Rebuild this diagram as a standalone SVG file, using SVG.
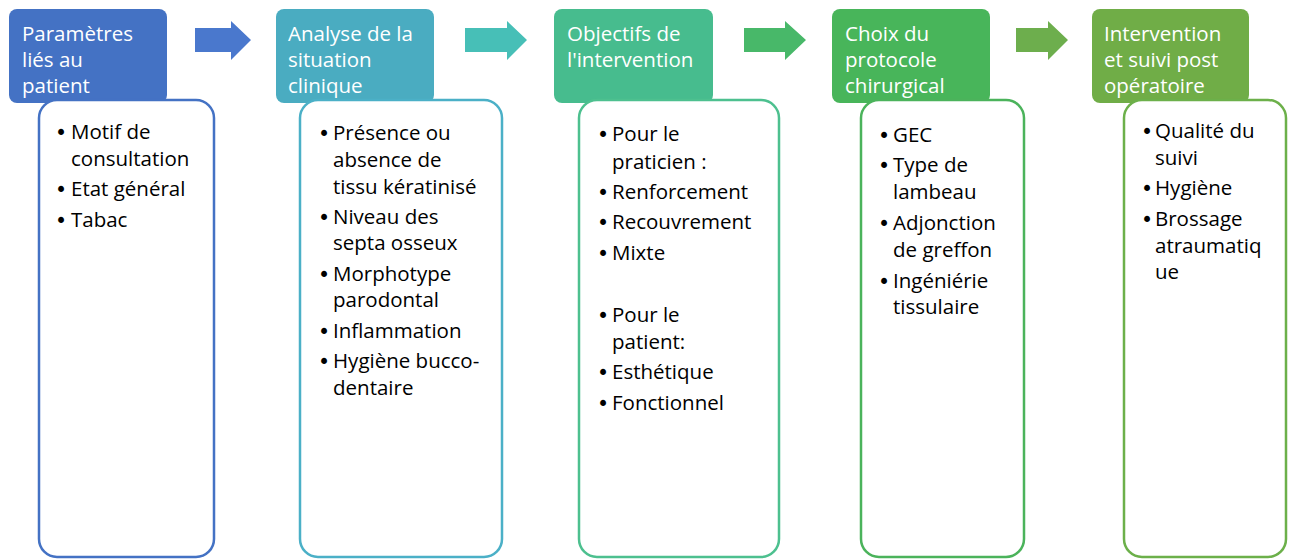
<svg xmlns="http://www.w3.org/2000/svg" width="1293" height="559" viewBox="0 0 1293 559">
<style>
.hd{font-family:"Open Sans","Noto Sans",sans-serif;font-size:20.5px;fill:#ffffff}
.bd{font-family:"Open Sans","Noto Sans",sans-serif;font-size:20.5px;fill:#000000}
.bu{font-family:"DejaVu Sans",sans-serif}
.card{fill:#ffffff;stroke-width:2.5}
</style>
<rect width="1293" height="559" fill="#ffffff"/>
<g id="connectors">
<polygon points="195,28 231,28 231,21 251,40 231,60 231,52 195,52" fill="#4A78CD"/>
<polygon points="465,28 507,28 507,21 527,40 507,60 507,52 465,52" fill="#47BFB7"/>
<polygon points="744,28 785,28 785,21 806,40 785,60 785,52 744,52" fill="#48B869"/>
<polygon points="1016,28 1048,28 1048,21 1068,40 1048,60 1048,52 1016,52" fill="#6DAE4D"/>
</g>
<g id="node1">
<rect x="9" y="9" width="158" height="94" rx="8" fill="#4472C4"/>
<text class="hd"><tspan x="22" y="41">Paramètres</tspan><tspan x="22" y="67">liés au</tspan><tspan x="22" y="93">patient</tspan></text>
<rect class="card" x="39" y="100" width="175" height="457" rx="18" stroke="#4472C4"/>
<text class="bd"><tspan class="bu" x="55" y="140">•</tspan><tspan x="71" y="139">Motif de</tspan><tspan x="71" y="166">consultation</tspan><tspan class="bu" x="55" y="197">•</tspan><tspan x="71" y="196">Etat général</tspan><tspan class="bu" x="55" y="228">•</tspan><tspan x="71" y="227">Tabac</tspan></text>
</g>
<g id="node2">
<rect x="276" y="9" width="158" height="94" rx="8" fill="#4AACC1"/>
<text class="hd"><tspan x="288" y="41">Analyse de la</tspan><tspan x="288" y="67">situation</tspan><tspan x="288" y="93">clinique</tspan></text>
<rect class="card" x="300" y="100" width="202" height="457" rx="18" stroke="#4BB0C7"/>
<text class="bd"><tspan class="bu" x="318" y="141">•</tspan><tspan x="333" y="140">Présence ou</tspan><tspan x="333" y="167">absence de</tspan><tspan x="333" y="194">tissu kératinisé</tspan><tspan class="bu" x="318" y="225">•</tspan><tspan x="333" y="224">Niveau des</tspan><tspan x="333" y="250">septa osseux</tspan><tspan class="bu" x="318" y="282">•</tspan><tspan x="333" y="281">Morphotype</tspan><tspan x="333" y="307">parodontal</tspan><tspan class="bu" x="318" y="339">•</tspan><tspan x="333" y="338">Inflammation</tspan><tspan class="bu" x="318" y="369">•</tspan><tspan x="333" y="368">Hygiène bucco-</tspan><tspan x="333" y="395">dentaire</tspan></text>
</g>
<g id="node3">
<rect x="554" y="9" width="159" height="94" rx="8" fill="#47BC8E"/>
<text class="hd"><tspan x="567" y="41">Objectifs de</tspan><tspan x="567" y="67">l'intervention</tspan></text>
<rect class="card" x="579" y="100" width="200" height="457" rx="18" stroke="#4DC08F"/>
<text class="bd"><tspan class="bu" x="597" y="142">•</tspan><tspan x="612" y="141">Pour le</tspan><tspan x="612" y="169">praticien :</tspan><tspan class="bu" x="597" y="200">•</tspan><tspan x="612" y="199">Renforcement</tspan><tspan class="bu" x="597" y="230">•</tspan><tspan x="612" y="229">Recouvrement</tspan><tspan class="bu" x="597" y="261">•</tspan><tspan x="612" y="260">Mixte</tspan><tspan class="bu" x="597" y="323">•</tspan><tspan x="612" y="322">Pour le</tspan><tspan x="612" y="349">patient:</tspan><tspan class="bu" x="597" y="380">•</tspan><tspan x="612" y="379">Esthétique</tspan><tspan class="bu" x="597" y="411">•</tspan><tspan x="612" y="410">Fonctionnel</tspan></text>
</g>
<g id="node4">
<rect x="832" y="9" width="158" height="94" rx="8" fill="#48B55A"/>
<text class="hd"><tspan x="845" y="41">Choix du</tspan><tspan x="845" y="67">protocole</tspan><tspan x="845" y="93">chirurgical</tspan></text>
<rect class="card" x="861" y="100" width="163" height="457" rx="18" stroke="#4BB35B"/>
<text class="bd"><tspan class="bu" x="878" y="143">•</tspan><tspan x="893" y="142">GEC</tspan><tspan class="bu" x="878" y="173">•</tspan><tspan x="893" y="172">Type de</tspan><tspan x="893" y="199">lambeau</tspan><tspan class="bu" x="878" y="231">•</tspan><tspan x="893" y="230">Adjonction</tspan><tspan x="893" y="257">de greffon</tspan><tspan class="bu" x="878" y="289">•</tspan><tspan x="893" y="288">Ingéniérie</tspan><tspan x="893" y="314">tissulaire</tspan></text>
</g>
<g id="node5">
<rect x="1092" y="9" width="157" height="94" rx="8" fill="#70AD47"/>
<text class="hd"><tspan x="1104" y="41">Intervention</tspan><tspan x="1104" y="67">et suivi post</tspan><tspan x="1104" y="93">opératoire</tspan></text>
<rect class="card" x="1124" y="100" width="162" height="457" rx="18" stroke="#6CB04A"/>
<text class="bd"><tspan class="bu" x="1141" y="139">•</tspan><tspan x="1155" y="138">Qualité du</tspan><tspan x="1155" y="165">suivi</tspan><tspan class="bu" x="1141" y="196">•</tspan><tspan x="1155" y="195">Hygiène</tspan><tspan class="bu" x="1141" y="227">•</tspan><tspan x="1155" y="226">Brossage</tspan><tspan x="1155" y="253">atraumatiq</tspan><tspan x="1155" y="279">ue</tspan></text>
</g>
</svg>
